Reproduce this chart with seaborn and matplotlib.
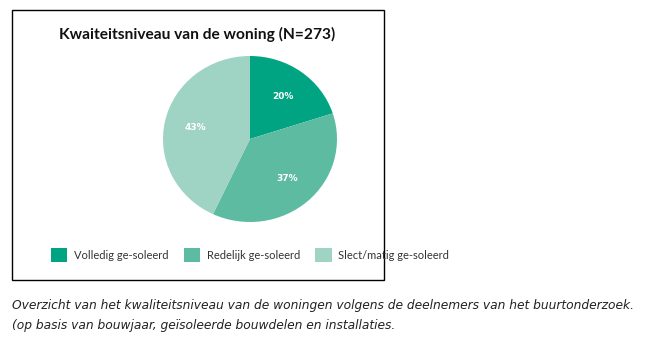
import matplotlib
matplotlib.use("Agg")
import matplotlib.pyplot as plt
from matplotlib.patches import Patch, Rectangle
import seaborn as sns

categories = ["Volledig ge-soleerd", "Redelijk ge-soleerd", "Slect/matig ge-soleerd"]
values = [20, 37, 43]
colors = ["#00A482", "#5DBBA2", "#9FD3C3"]
title = "Kwaiteitsniveau van de woning (N=273)"
caption1 = "Overzicht van het kwaliteitsniveau van de woningen volgens de deelnemers van het buurtonderzoek."
caption2 = "(op basis van bouwjaar, geïsoleerde bouwdelen en installaties."

sns.set_theme(style="white")
plt.rcParams["font.family"] = ["Lato", "DejaVu Sans"]

fig = plt.figure(figsize=(6.63, 3.58), dpi=100)
fig.patch.set_facecolor("white")

# frame
fig.add_artist(Rectangle((12/663, 1 - 280/358), (384-12)/663, (280-10)/358,
                         transform=fig.transFigure, fill=False, edgecolor="black", linewidth=1.0))

ax = fig.add_axes([163/663, 1 - 222/358, 174/663, 166/358])
wedges, texts, autotexts = ax.pie(
    values, colors=sns.color_palette(colors), startangle=90, counterclock=False,
    autopct=lambda p: f"{p:.0f}%", pctdistance=0.64,
    textprops=dict(color="white", fontsize=6.5, fontweight="bold", family="DejaVu Sans"),
    wedgeprops=dict(linewidth=0)
)
ax.set_aspect("auto")
ax.set_xlim(-1, 1)
ax.set_ylim(-1, 1)

fig.text(197/663, 1 - 34/358, title, ha="center", va="center",
         fontsize=11.2, fontweight="bold", color="#111111")

handles = [Patch(facecolor=c, edgecolor="none") for c in colors]
leg = fig.legend(handles, categories, loc="center", bbox_to_anchor=(250/663, 1 - 255/358),
                 ncol=3, frameon=False, fontsize=8, handlelength=1.5, handleheight=1.5,
                 columnspacing=1.35, handletextpad=0.6)
for t in leg.get_texts():
    t.set_color("#333333")

fig.text(12/663, 1 - 305/358, caption1, ha="left", va="center", fontsize=8.8,
         fontstyle="italic", color="#222222", family="DejaVu Sans")
fig.text(12/663, 1 - 326/358, caption2, ha="left", va="center", fontsize=8.8,
         fontstyle="italic", color="#222222", family="DejaVu Sans")

fig.savefig("out.png", dpi=100, facecolor="white")
